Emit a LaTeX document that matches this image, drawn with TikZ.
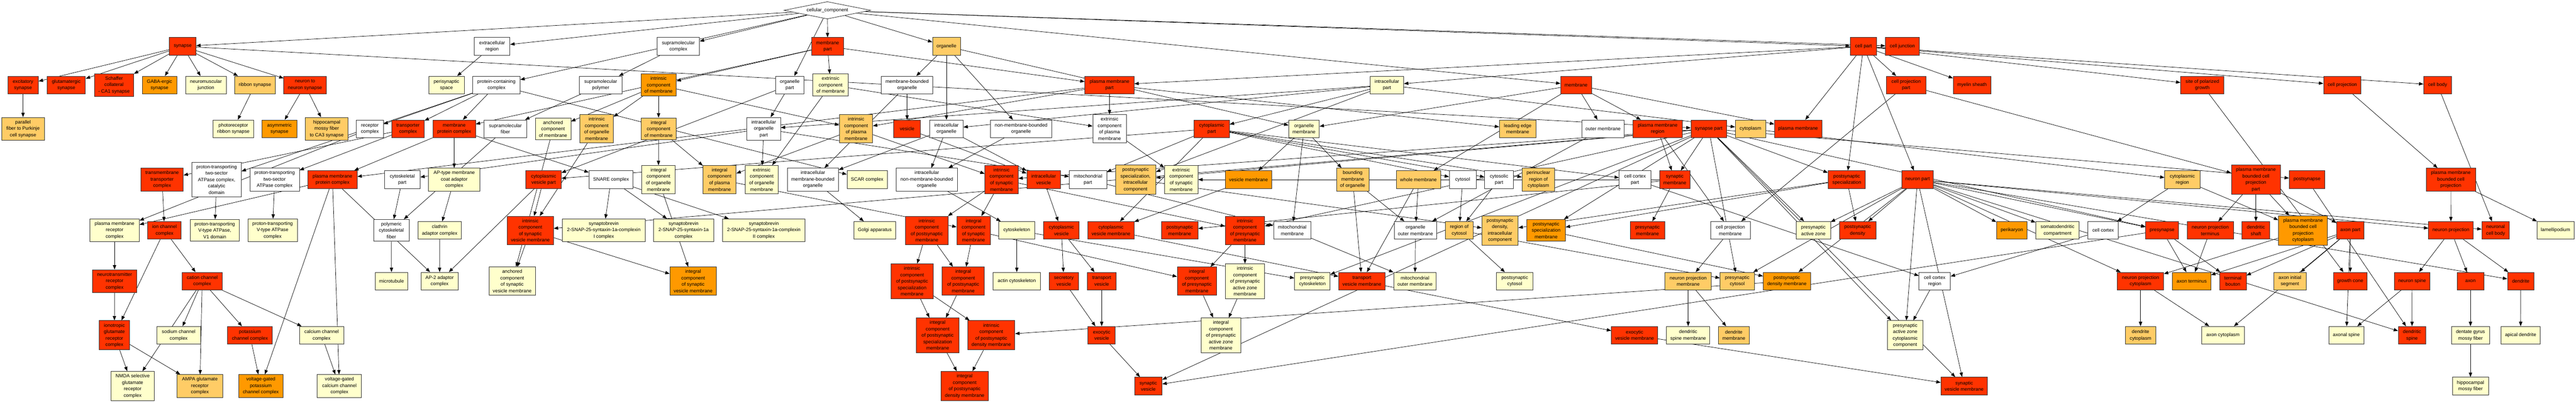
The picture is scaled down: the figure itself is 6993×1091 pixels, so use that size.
\documentclass[tikz,border=0pt]{standalone}
\usepackage{fontspec}
\setmainfont{Liberation Sans}
\usetikzlibrary{arrows.meta,shapes.geometric}
\pgfdeclarelayer{bg}
\pgfsetlayers{bg,main}
\definecolor{cR}{HTML}{FF3300}
\definecolor{cO}{HTML}{FF9900}
\definecolor{cL}{HTML}{FFCC66}
\definecolor{cY}{HTML}{FFFFCC}
\newcommand\nd[6]{\node[#5, minimum width=#4pt] (#1) at (#2,#3) {#6};}
\begin{document}
\begin{tikzpicture}[x=1pt,y=-1pt,
  box/.style={draw=black!80, line width=1.2pt, rectangle, align=center, minimum height=48pt,
    inner xsep=2pt, inner ysep=7.5pt, font=\fontsize{13}{17.5}\selectfont},
  cr/.style={box, fill=cR},
  co/.style={box, fill=cO},
  cl/.style={box, fill=cL},
  cy/.style={box, fill=cY},
  cw/.style={box, fill=white},
  e/.style={draw=black, line width=1pt, -{Triangle[length=12pt,width=9pt]}}
]
\useasboundingbox (0,0) rectangle (6993,1091);
\begin{pgfonlayer}{bg}
\fill[white] (0,0) rectangle (6993,1091);
\end{pgfonlayer}
% row 0
\node[diamond, draw=black!80, line width=1.2pt, fill=white, aspect=5, inner sep=0pt,
  minimum width=236pt, minimum height=47pt, font=\fontsize{13}{17.5}\selectfont] (cc) at (2246,28) {cellular\_component};
% row 1
\nd{synapse}{496}{126}{72}{cr}{synapse}
\nd{extreg}{1336}{126}{96.5}{cw}{extracellular\\region}
\nd{supcx}{1841.4}{126}{114.8}{cw}{supramolecular\\complex}
\nd{mempart}{2246.7}{126}{85.7}{cr}{membrane\\part}
\nd{organelle}{2569.3}{126}{75.4}{cl}{organelle}
\nd{cellpart}{5058.7}{126}{72}{cr}{cell part}
\nd{celljunc}{5164.3}{126}{91.8}{cr}{cell junction}
% row 2
\nd{excsyn}{62.5}{231}{83}{cr}{excitatory\\synapse}
\nd{glusyn}{180}{231}{104}{cr}{glutamatergic\\synapse}
\nd{schaffer}{309.5}{231}{107}{cr}{Schaffer\\collateral\\- CA1 synapse}
\nd{gaba}{433}{231}{94}{co}{GABA-ergic\\synapse}
\nd{nmj}{559}{231}{110}{cy}{neuromuscular\\junction}
\nd{ribbon}{692}{231}{110}{cl}{ribbon synapse}
\nd{n2n}{828}{231}{115}{cr}{neuron to\\neuron synapse}
\nd{perisyn}{1212}{231}{96.5}{cy}{perisynaptic\\space}
\nd{protcx}{1347.7}{231}{128}{cw}{protein-containing\\complex}
\nd{suppoly}{1630.6}{231}{115}{cw}{supramolecular\\polymer}
\nd{intrmem}{1787.8}{231}{96}{co}{intrinsic\\component\\of membrane}
\nd{orgpart}{2144}{231}{77.3}{cw}{organelle\\part}
\nd{extrmem}{2254.7}{231}{96.4}{cy}{extrinsic\\component\\of membrane}
\nd{mbo}{2462.5}{231}{139.7}{cw}{membrane-bounded\\organelle}
\nd{pmpart}{3011.9}{231}{133.6}{cr}{plasma membrane\\part}
\nd{intrapart}{3765}{231}{91}{cy}{intracellular\\part}
\nd{membrane}{4278.5}{231}{83.4}{cr}{membrane}
\nd{cellprojpart}{5174.5}{231}{107.5}{cr}{cell projection\\part}
\nd{myelin}{5353.4}{231}{102.2}{cr}{myelin sheath}
\nd{spg}{5978.5}{231}{117.5}{cr}{site of polarized\\growth}
\nd{cellproj}{6358.6}{231}{101.7}{cr}{cell projection}
\nd{cellbody}{6617.3}{231}{75.8}{cr}{cell body}
% row 3
\nd{parallel}{62.5}{350}{116}{cl}{parallel\\fiber to Purkinje\\cell synapse}
\nd{photorib}{633.4}{350}{110}{cy}{photoreceptor\\ribbon synapse}
\nd{asym}{758.7}{350}{94}{co}{asymmetric\\synapse}
\nd{hippmossy}{886.9}{350}{116}{cl}{hippocampal\\mossy fiber\\to CA3 synapse}
\nd{receptcx}{1004}{350}{73}{cw}{receptor\\complex}
\nd{transpcx}{1107.8}{350}{88}{cr}{transporter\\complex}
\nd{memprotcx}{1233}{350}{115.6}{cr}{membrane\\protein complex}
\nd{supfib}{1372}{350}{115.6}{cw}{supramolecular\\fiber}
\nd{anchmem}{1501.3}{350}{96.5}{cy}{anchored\\component\\of membrane}
\nd{introrgmem}{1619.8}{350}{90.7}{cl}{intrinsic\\component\\of organelle\\membrane}
\nd{integmem}{1787.8}{350}{96}{cl}{integral\\component\\of membrane}
\nd{intraorgpart}{2073.3}{350}{91}{cw}{intracellular\\organelle\\part}
\nd{intrpm}{2324}{350}{90}{cl}{intrinsic\\component\\of plasma\\membrane}
\nd{vesicle}{2462.5}{350}{72.3}{cr}{vesicle}
\nd{intraorg}{2569.3}{350}{90.7}{cw}{intracellular\\organelle}
\nd{nmbo}{2772}{350}{165.7}{cw}{non-membrane-bounded\\organelle}
\nd{extrpm}{3012}{350}{90.7}{cw}{extrinsic\\component\\of plasma\\membrane}
\nd{cytopart}{3289.4}{350}{96}{cr}{cytoplasmic\\part}
\nd{orgmem}{3540}{350}{83}{cy}{organelle\\membrane}
\nd{leadedge}{4120}{350}{99}{cl}{leading edge\\membrane}
\nd{outermem}{4351.8}{350}{115.2}{cw}{outer membrane}
\nd{pmregion}{4500}{350}{134}{cr}{plasma membrane\\region}
\nd{synpart}{4638.5}{350}{96.3}{cr}{synapse part}
\nd{cytoplasm}{4751.9}{350}{82.3}{cl}{cytoplasm}
\nd{pm}{4881.3}{350}{128.2}{cr}{plasma membrane}
% row 4
\nd{tmtranspcx}{440}{488}{115}{cr}{transmembrane\\transporter\\complex}
\nd{catdomain}{588}{488}{134}{cw}{proton-transporting\\two-sector\\ATPase complex,\\catalytic\\domain}
\nd{ptATPase}{745.5}{488}{134}{cw}{proton-transporting\\two-sector\\ATPase complex}
\nd{pmprotcx}{902.6}{488}{134}{cr}{plasma membrane\\protein complex}
\nd{cytoskpart}{1092}{488}{96.5}{cw}{cytoskeletal\\part}
\nd{aptype}{1233}{488}{139}{cy}{AP-type membrane\\coat adaptor\\complex}
\nd{cytovespart}{1475.7}{488}{95.7}{cr}{cytoplasmic\\vesicle part}
\nd{snare}{1658.8}{488}{119.8}{cw}{SNARE complex}
\nd{integorgmem}{1787.5}{488}{91}{cy}{integral\\component\\of organelle\\membrane}
\nd{integpm}{1953.4}{488}{90}{cl}{integral\\component\\of plasma\\membrane}
\nd{extrorgmem}{2067.7}{488}{90.7}{cy}{extrinsic\\component\\of organelle\\membrane}
\nd{imbo}{2206.7}{488}{139}{cw}{intracellular\\membrane-bounded\\organelle}
\nd{scar}{2354}{488}{109.5}{cy}{SCAR complex}
\nd{inmbo}{2516}{488}{165.7}{cw}{intracellular\\non-membrane-bounded\\organelle}
\nd{intrsynmem}{2718.8}{488}{90.3}{cr}{intrinsic\\component\\of synaptic\\membrane}
\nd{intravesicle}{2833}{488}{91}{cr}{intracellular\\vesicle}
\nd{mitopart}{2953.4}{488}{101.4}{cw}{mitochondrial\\part}
\nd{psicc}{3082.6}{488}{109.5}{cl}{postsynaptic\\specialization,\\intracellular\\component}
\nd{extrsynmem}{3206.6}{488}{91}{cy}{extrinsic\\component\\of synaptic\\membrane}
\nd{vesmem}{3389.3}{488}{126}{co}{vesicle membrane}
\nd{bmo}{3672}{488}{88}{cl}{bounding\\membrane\\of organelle}
\nd{wholemem}{3850.7}{488}{120.6}{cl}{whole membrane}
\nd{cytosol}{3970.6}{488}{72.7}{cw}{cytosol}
\nd{cytosolpart}{4069.3}{488}{78}{cw}{cytosolic\\part}
\nd{perinuc}{4176.2}{488}{88.4}{cl}{perinuclear\\region of\\cytoplasm}
\nd{cortexpart}{4438.5}{488}{85.8}{cw}{cell cortex\\part}
\nd{synmem}{4546.5}{488}{83}{cr}{synaptic\\membrane}
\nd{psspec}{5013.3}{488}{101.4}{cr}{postsynaptic\\specialization}
\nd{neuronpart}{5205.4}{488}{85}{cr}{neuron part}
\nd{cytoregion}{5924.3}{488}{95.7}{cl}{cytoplasmic\\region}
\nd{pmbcpp}{6124}{488}{133.5}{cr}{plasma membrane\\bounded cell\\projection\\part}
\nd{postsynapse}{6262.7}{488}{96.4}{cr}{postsynapse}
\nd{pmbcp}{6653.2}{488}{134}{cr}{plasma membrane\\bounded cell\\projection}
% row 5
\nd{pmrecept}{311}{626}{134}{cy}{plasma membrane\\receptor\\complex}
\nd{ionch}{446.6}{626}{91}{cr}{ion channel\\complex}
\nd{v1}{583}{626}{134}{cy}{proton-transporting\\V-type ATPase,\\V1 domain}
\nd{vtype}{740}{626}{134}{cy}{proton-transporting\\V-type ATPase\\complex}
\nd{polyfib}{1062.5}{626}{96.5}{cw}{polymeric\\cytoskeletal\\fiber}
\nd{clathrin}{1193.5}{626}{117}{cy}{clathrin\\adaptor complex}
\nd{isvm}{1439.8}{626}{125.5}{cr}{intrinsic\\component\\of synaptic\\vesicle membrane}
\nd{syncomplexinI}{1639}{626}{224.7}{cy}{synaptobrevin\\2-SNAP-25-syntaxin-1a-complexin\\I complex}
\nd{syn1a}{1855.7}{626}{162.6}{cy}{synaptobrevin\\2-SNAP-25-syntaxin-1a\\complex}
\nd{syncomplexinII}{2073.5}{626}{224.7}{cy}{synaptobrevin\\2-SNAP-25-syntaxin-1a-complexin\\II complex}
\nd{golgi}{2374.8}{626}{112.4}{cy}{Golgi apparatus}
\nd{intrpsm}{2516}{626}{114.8}{cr}{intrinsic\\component\\of postsynaptic\\membrane}
\nd{integsynmem}{2642.8}{626}{90.7}{cr}{integral\\component\\of synaptic\\membrane}
\nd{cytoskeleton}{2760}{626}{96.8}{cy}{cytoskeleton}
\nd{cytoves}{2881.4}{626}{96.3}{cr}{cytoplasmic\\vesicle}
\nd{cytovesmem}{3016}{626}{125}{cr}{cytoplasmic\\vesicle membrane}
\nd{psmem}{3202.6}{626}{99}{cr}{postsynaptic\\membrane}
\nd{intrpresynmem}{3379.7}{626}{106.7}{cr}{intrinsic\\component\\of presynaptic\\membrane}
\nd{mitomem}{3508}{626}{101.3}{cw}{mitochondrial\\membrane}
\nd{orgoutmem}{3842.6}{626}{115.2}{cw}{organelle\\outer membrane}
\nd{regcytosol}{3961.3}{626}{74.6}{cl}{region of\\cytosol}
\nd{psdicc}{4072}{626}{98.5}{cl}{postsynaptic\\density,\\intracellular\\component}
\nd{psspecmem}{4197.2}{626}{104.4}{co}{postsynaptic\\specialization\\membrane}
\nd{presynmem}{4472.4}{626}{93.7}{cr}{presynaptic\\membrane}
\nd{cellprojmem}{4697.4}{626}{107}{cw}{cell projection\\membrane}
\nd{paz}{4922.6}{626}{93}{cy}{presynaptic\\active zone}
\nd{psd}{5042.8}{626}{99.1}{cr}{postsynaptic\\density}
\nd{perikaryon}{5461.5}{626}{83.4}{co}{perikaryon}
\nd{somato}{5585.5}{626}{117.9}{cy}{somatodendritic\\compartment}
\nd{cellcortex}{5709.3}{626}{83}{cw}{cell cortex}
\nd{presynapse}{5869.3}{626}{88.8}{cr}{presynapse}
\nd{nproterm}{6000}{626}{126}{cr}{neuron projection\\terminus}
\nd{dendshaft}{6124}{626}{75.4}{cr}{dendritic\\shaft}
\nd{pmbcpc}{6252}{626}{133.2}{co}{plasma membrane\\bounded cell\\projection\\cytoplasm}
\nd{axonpart}{6380.3}{626}{75.2}{cr}{axon part}
\nd{nproj}{6653.3}{626}{121}{cr}{neuron projection}
\nd{neuronalcb}{6774.7}{626}{74.6}{cr}{neuronal\\cell body}
\nd{lamelli}{6937.3}{626}{101.4}{cy}{lamellipodium}
% row 6
\nd{ntrecept}{311}{764}{121}{cr}{neurotransmitter\\receptor\\complex}
\nd{cationch}{549}{764}{110}{cr}{cation channel\\complex}
\nd{microtubule}{1062.8}{764}{88}{cy}{microtubule}
\nd{ap2}{1193.4}{764}{101.6}{cy}{AP-2 adaptor\\complex}
\nd{anchsvm}{1390.4}{764}{125.5}{cy}{anchored\\component\\of synaptic\\vesicle membrane}
\nd{integsvm}{1881.6}{764}{126.3}{co}{integral\\component\\of synaptic\\vesicle membrane}
\nd{intrpssm}{2476}{764}{114.4}{cr}{intrinsic\\component\\of postsynaptic\\specialization\\membrane}
\nd{integpsm}{2614.7}{764}{114.8}{cr}{integral\\component\\of postsynaptic\\membrane}
\nd{actin}{2760.3}{764}{128.2}{cy}{actin cytoskeleton}
\nd{secves}{2888}{764}{80}{cr}{secretory\\vesicle}
\nd{transpves}{2990.7}{764}{77.3}{cr}{transport\\vesicle}
\nd{integpresynmem}{3249.2}{764}{106.8}{cr}{integral\\component\\of presynaptic\\membrane}
\nd{intrpazm}{3379.7}{764}{106.7}{cy}{intrinsic\\component\\of presynaptic\\active zone\\membrane}
\nd{presyncytosk}{3562.7}{764}{96.5}{cy}{presynaptic\\cytoskeleton}
\nd{transpvesmem}{3697}{764}{125.9}{cr}{transport\\vesicle membrane}
\nd{mitooutmem}{3841.2}{764}{115.6}{cy}{mitochondrial\\outer membrane}
\nd{pscytosol}{4112}{764}{98.7}{cy}{postsynaptic\\cytosol}
\nd{nprojmem}{4582.8}{764}{125.5}{cl}{neuron projection\\membrane}
\nd{presyncytosol}{4716}{764}{93}{cl}{presynaptic\\cytosol}
\nd{psdmem}{4850.7}{764}{128.2}{co}{postsynaptic\\density membrane}
\nd{cortexregion}{5252}{764}{85}{cw}{cell cortex\\region}
\nd{nprojcyto}{5810.8}{764}{125.5}{cr}{neuron projection\\cytoplasm}
\nd{axonterm}{5949.6}{764}{104}{co}{axon terminus}
\nd{termbouton}{6061.4}{764}{72.7}{cr}{terminal\\bouton}
\nd{ais}{6216.2}{764}{88.4}{cl}{axon initial\\segment}
\nd{growthcone}{6380}{764}{91}{cr}{growth cone}
\nd{nspine}{6548}{764}{95.7}{cr}{neuron spine}
\nd{axon}{6706.5}{764}{72}{cr}{axon}
\nd{dendrite}{6843}{764}{72}{cr}{dendrite}
% row 7
\nd{ionotropic}{310.5}{911}{83}{cr}{ionotropic\\glutamate\\receptor\\complex}
\nd{sodium}{485}{911}{118}{cy}{sodium channel\\complex}
\nd{potassium}{678.5}{911}{121}{cr}{potassium\\channel complex}
\nd{calcium}{873}{911}{120}{cy}{calcium channel\\complex}
\nd{integpssm}{2545.4}{911}{115.6}{cr}{integral\\component\\of postsynaptic\\specialization\\membrane}
\nd{intrpsdm}{2691}{911}{128.2}{cr}{intrinsic\\component\\of postsynaptic\\density membrane}
\nd{exoves}{2990.7}{911}{74.2}{cr}{exocytic\\vesicle}
\nd{integpazm}{3314.4}{911}{107.1}{cy}{integral\\component\\of presynaptic\\active zone\\membrane}
\nd{exovesmem}{4437.3}{911}{125.5}{cr}{exocytic\\vesicle membrane}
\nd{dendspinemem}{4582.8}{911}{117.9}{cy}{dendritic\\spine membrane}
\nd{dendmem}{4706.6}{911}{83.4}{cl}{dendrite\\membrane}
\nd{pazcc}{5171.9}{911}{95.7}{cy}{presynaptic\\active zone\\cytoplasmic\\component}
\nd{dendcyto}{5810.8}{911}{83.2}{cl}{dendrite\\cytoplasm}
\nd{axoncyto}{6034.6}{911}{115.6}{cy}{axon cytoplasm}
\nd{axonalspine}{6369.5}{911}{94.3}{cy}{axonal spine}
\nd{dendspine}{6547.8}{911}{74.6}{cr}{dendritic\\spine}
\nd{dgmf}{6706.5}{911}{104}{cy}{dentate gyrus\\mossy fiber}
\nd{apical}{6842.6}{911}{107.2}{cy}{apical dendrite}
% row 8
\nd{nmda}{360}{1049}{118}{cy}{NMDA selective\\glutamate\\receptor\\complex}
\nd{ampa}{542.6}{1049}{125}{cl}{AMPA glutamate\\receptor\\complex}
\nd{vgk}{708}{1049}{120.6}{co}{voltage-gated\\potassium\\channel complex}
\nd{vgca}{921.4}{1049}{120}{cy}{voltage-gated\\calcium channel\\complex}
\nd{integpsdm}{2618.7}{1049}{128.2}{cr}{integral\\component\\of postsynaptic\\density membrane}
\nd{synves}{3117.2}{1049}{74.6}{cr}{synaptic\\vesicle}
\nd{synvesmem}{5332}{1049}{125.9}{cr}{synaptic\\vesicle membrane}
\nd{hmf}{6706.5}{1049}{98.7}{cy}{hippocampal\\mossy fiber}
% edges
\begin{pgfonlayer}{bg}
\foreach \a/\b in {cc/synapse, cc/extreg, cc/protcx, cc/supcx, cc/mempart, cc/orgpart, cc/organelle, cc/membrane, cc/cellpart, cc/celljunc,
synapse/excsyn, synapse/glusyn, synapse/schaffer, synapse/gaba, synapse/nmj, synapse/ribbon, synapse/n2n, synapse/synpart,
excsyn/parallel, ribbon/photorib, n2n/asym, n2n/hippmossy, extreg/perisyn,
protcx/memprotcx, protcx/receptcx, protcx/transpcx, protcx/scar, protcx/catdomain,
supcx/suppoly, suppoly/supfib,
mempart/extrmem, mempart/intrmem, mempart/memprotcx, mempart/pmpart,
intrmem/integmem, intrmem/intrpm, intrmem/introrgmem, intrmem/anchmem,
orgpart/intraorgpart, orgpart/cytovespart,
extrmem/extrorgmem, extrmem/extrpm,
integmem/integorgmem, integmem/integpm,
intraorgpart/extrorgmem, intraorgpart/mitopart, intraorgpart/cytoskpart,
intrapart/intraorgpart, intrapart/intraorg, intrapart/cytopart, intrapart/cytoplasm, intrapart/psicc,
intrpm/integpm, intrpm/intrsynmem,
pmpart/extrpm, pmpart/intrpm, pmpart/pmprotcx, pmpart/leadedge,
memprotcx/pmprotcx, memprotcx/aptype, memprotcx/snare,
receptcx/pmrecept, transpcx/tmtranspcx, transpcx/ptATPase,
pmprotcx/pmrecept, pmprotcx/vgk, pmprotcx/vgca, pmprotcx/ap2,
tmtranspcx/ionch, catdomain/v1, ptATPase/vtype,
cytoskpart/polyfib, supfib/polyfib, polyfib/microtubule,
aptype/clathrin, clathrin/ap2, cytovespart/ap2, cytovespart/isvm,
anchmem/anchsvm, introrgmem/isvm, synpart/isvm, isvm/anchsvm, isvm/integsvm, integorgmem/integsvm,
snare/syncomplexinI, snare/syn1a, snare/syncomplexinII,
organelle/mbo, organelle/intraorg, organelle/nmbo, organelle/orgmem,
mbo/vesicle, mbo/imbo, intraorg/inmbo, intraorg/imbo, intraorg/intravesicle, nmbo/inmbo, vesicle/intravesicle,
imbo/golgi, inmbo/cytoskeleton,
intrsynmem/intrpsm, intrsynmem/integsynmem, intrsynmem/intrpresynmem, synpart/intrsynmem, integpm/integsynmem,
intravesicle/cytoves, cytoves/secves, cytoves/transpves,
intrpsm/intrpssm, intrpsm/integpsm, integsynmem/integpsm, integsynmem/integpresynmem,
cytoskeleton/actin, cytoskeleton/presyncytosk,
intrpssm/integpssm, intrpssm/intrpsdm, integpsm/integpssm, psdmem/intrpsdm, integpssm/integpsdm, intrpsdm/integpsdm,
secves/exoves, transpves/exoves, exoves/synves,
extrpm/extrsynmem,
cellpart/pmpart, cellpart/intrapart, cellpart/pm, cellpart/psspec, cellpart/neuronpart, cellpart/cellprojpart, cellpart/myelin, cellpart/spg, cellpart/cellproj, cellpart/cellbody,
cytopart/mitopart, cytopart/cytovespart, cytopart/cytosol, cytopart/cytosolpart, cytopart/cortexpart, cytopart/cytovesmem, cytopart/perinuc,
psicc/psdicc, synmem/extrsynmem, synmem/psmem, synmem/presynmem,
orgmem/vesmem, orgmem/bmo, orgmem/mitomem, membrane/orgmem, membrane/wholemem, membrane/outermem, membrane/pmregion, membrane/pm,
vesmem/cytovesmem, mitopart/mitomem,
intrpresynmem/integpresynmem, intrpresynmem/intrpazm, integpresynmem/integpazm, intrpazm/integpazm, synpart/intrpresynmem, synpart/psicc,
cytovesmem/transpvesmem, bmo/transpvesmem, bmo/orgoutmem, wholemem/orgoutmem, wholemem/transpvesmem,
cytosol/regcytosol, cytosolpart/regcytosol, outermem/orgoutmem, orgoutmem/mitooutmem, mitomem/mitooutmem,
regcytosol/pscytosol, regcytosol/presyncytosol, transpvesmem/exovesmem, synpart/presyncytosk,
synpart/psspecmem, psspec/psspecmem, psspec/psdicc, pmregion/synmem, pmregion/cellprojmem, synpart/synmem,
cortexpart/cortexregion, psspecmem/psdmem, cellprojmem/nprojmem, nprojmem/dendspinemem, nprojmem/dendmem,
exovesmem/synvesmem, cytoplasm/cytoregion, psspec/psd,
synpart/paz, synpart/presyncytosol, synpart/pazcc, synpart/psspec, synpart/synvesmem, synpart/synves, synpart/postsynapse, synpart/presynapse,
neuronpart/paz, neuronpart/psd, neuronpart/presyncytosol, neuronpart/psdmem, neuronpart/pazcc, neuronpart/perikaryon, neuronpart/somato, neuronpart/presynapse, neuronpart/nprojcyto, neuronpart/synvesmem, neuronpart/neuronalcb, neuronpart/dendspine, neuronpart/dendrite, neuronpart/nproj,
cellcortex/cortexregion, cortexregion/pazcc, cytoregion/cellcortex, cytoregion/pmbcpc,
cellprojpart/pmbcpp, cellprojpart/cellprojmem,
pmbcpp/nproterm, pmbcpp/dendshaft, pmbcpp/pmbcpc, pmbcpp/axonpart,
presynapse/axonterm, presynapse/termbouton, nproterm/axonterm,
axonpart/axonterm, axonpart/termbouton, axonpart/ais, axonpart/growthcone, axonpart/axonalspine, axonpart/axoncyto,
pmbcpc/nprojcyto, nprojcyto/dendcyto, nprojcyto/axoncyto,
spg/growthcone, cellproj/pmbcp, cellbody/neuronalcb, pmbcp/nproj, pmbcp/lamelli,
nproj/nspine, nproj/axon, nproj/dendrite, nspine/dendspine, nspine/axonalspine,
axon/dgmf, dgmf/hmf, dendrite/apical, postsynapse/dendspine, presynapse/synves,
ionch/cationch, ionch/ionotropic, pmrecept/ntrecept, ntrecept/ionotropic,
cationch/nmda, cationch/sodium, cationch/ampa, cationch/potassium, cationch/calcium,
ionotropic/nmda, ionotropic/ampa, potassium/vgk, calcium/vgca}
  \draw[e] (\a) -- (\b);
\end{pgfonlayer}
\end{tikzpicture}
\end{document}
